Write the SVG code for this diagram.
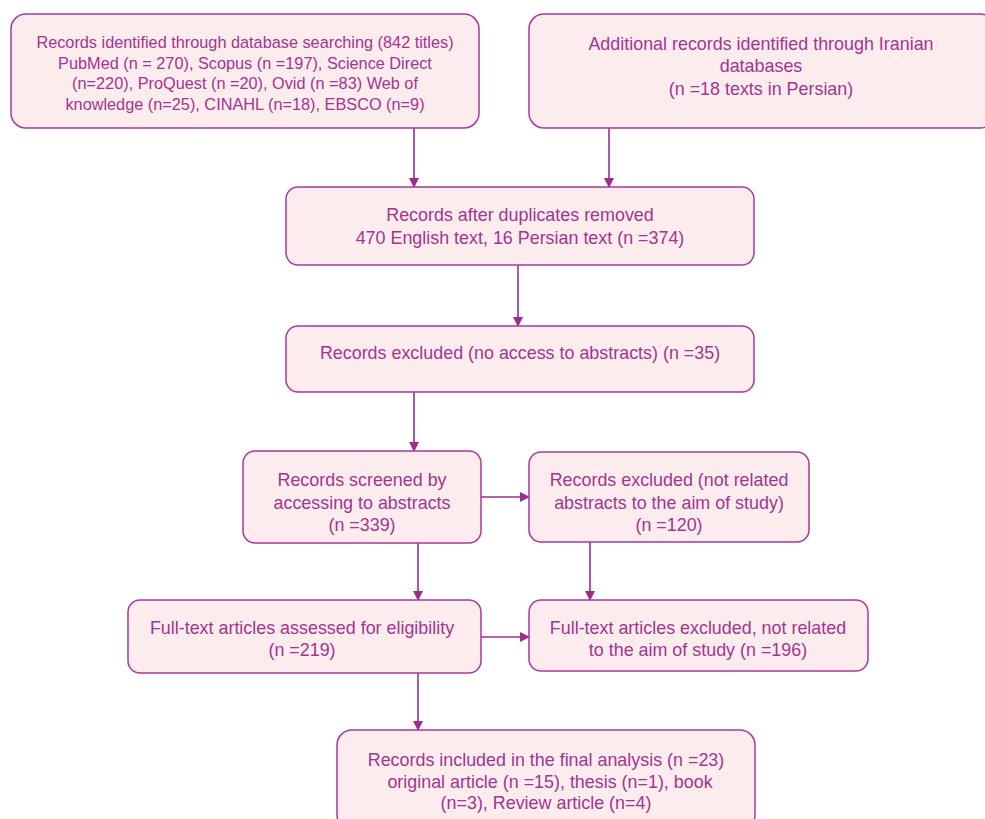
<svg xmlns="http://www.w3.org/2000/svg" width="985" height="819" viewBox="0 0 985 819">
<style>
.box{fill:#fdeced;stroke:#a8399a;stroke-width:1.5}
text{font-family:"Liberation Sans",Arial,sans-serif;font-size:17.9px;fill:#a3358f;text-anchor:middle}
#n1 text{font-size:16.3px}
.c{stroke:#9c2f8c;stroke-width:1.6;fill:none}
</style>
<defs>
<marker id="ah" markerWidth="10" markerHeight="10" refX="9" refY="5" orient="auto" markerUnits="userSpaceOnUse">
<path d="M0,0 L10,5 L0,10 z" fill="#9c2f8c"/>
</marker>
</defs>
<rect width="985" height="819" fill="#ffffff"/>
<g id="connectors">
<line class="c" x1="414" y1="128" x2="414" y2="187" marker-end="url(#ah)"/>
<line class="c" x1="609" y1="128" x2="609" y2="187" marker-end="url(#ah)"/>
<line class="c" x1="518" y1="265" x2="518" y2="326" marker-end="url(#ah)"/>
<line class="c" x1="414" y1="392" x2="414" y2="451" marker-end="url(#ah)"/>
<line class="c" x1="481" y1="497" x2="529" y2="497" marker-end="url(#ah)"/>
<line class="c" x1="418" y1="543" x2="418" y2="600" marker-end="url(#ah)"/>
<line class="c" x1="590" y1="542" x2="590" y2="600" marker-end="url(#ah)"/>
<line class="c" x1="481" y1="637" x2="529" y2="637" marker-end="url(#ah)"/>
<line class="c" x1="418" y1="673" x2="418" y2="730" marker-end="url(#ah)"/>
</g>
<g id="n1">
<rect class="box" x="11" y="14" width="468" height="114" rx="15"/>
<text x="245" y="48">Records identified through database searching (842 titles)</text>
<text x="245" y="69">PubMed (n = 270), Scopus (n =197), Science Direct</text>
<text x="245" y="89">(n=220), ProQuest (n =20), Ovid (n =83) Web of</text>
<text x="245" y="110">knowledge (n=25), CINAHL (n=18), EBSCO (n=9)</text>
</g>
<g id="n2">
<rect class="box" x="529" y="14" width="466" height="114" rx="15"/>
<text x="761" y="50">Additional records identified through Iranian</text>
<text x="761" y="72">databases</text>
<text x="761" y="95">(n =18 texts in Persian)</text>
</g>
<g id="n3">
<rect class="box" x="286" y="187" width="468" height="78" rx="12"/>
<text x="520" y="221">Records after duplicates removed</text>
<text x="520" y="244">470 English text, 16 Persian text (n =374)</text>
</g>
<g id="n4">
<rect class="box" x="286" y="326" width="468" height="66" rx="12"/>
<text x="520" y="359">Records excluded (no access to abstracts) (n =35)</text>
</g>
<g id="n5">
<rect class="box" x="243" y="451" width="238" height="92" rx="12"/>
<text x="362" y="486">Records screened by</text>
<text x="362" y="509">accessing to abstracts</text>
<text x="362" y="531">(n =339)</text>
</g>
<g id="n6">
<rect class="box" x="529" y="452" width="280" height="90" rx="12"/>
<text x="669" y="486">Records excluded (not related</text>
<text x="669" y="509">abstracts to the aim of study)</text>
<text x="669" y="531">(n =120)</text>
</g>
<g id="n7">
<rect class="box" x="128" y="600" width="353" height="73" rx="12"/>
<text x="302" y="634">Full-text articles assessed for eligibility</text>
<text x="302" y="656">(n =219)</text>
</g>
<g id="n8">
<rect class="box" x="529" y="600" width="339" height="71" rx="12"/>
<text x="698" y="634">Full-text articles excluded, not related</text>
<text x="698" y="656">to the aim of study (n =196)</text>
</g>
<g id="n9">
<rect class="box" x="337" y="730" width="418" height="100" rx="15"/>
<text x="546" y="766">Records included in the final analysis (n =23)</text>
<text x="550" y="788">original article (n =15), thesis (n=1), book</text>
<text x="546" y="809">(n=3), Review article (n=4)</text>
</g>
</svg>
